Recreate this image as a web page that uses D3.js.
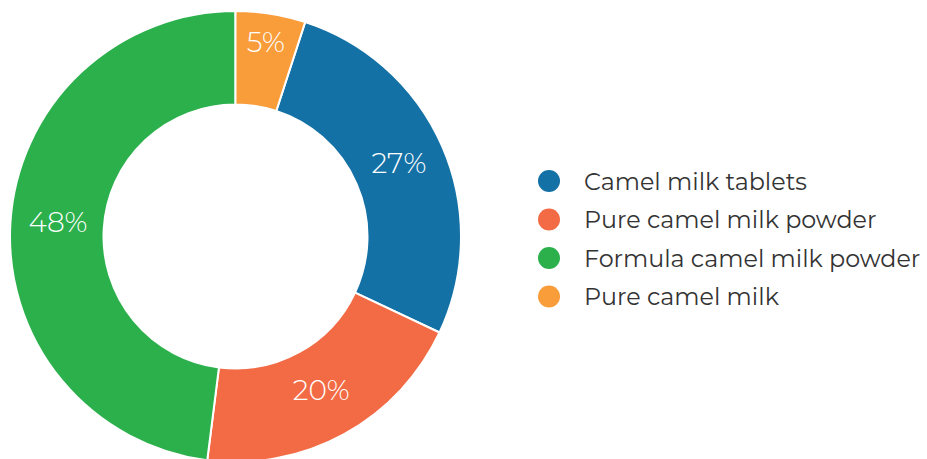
<!DOCTYPE html>
<meta charset="utf-8">
<script src="https://cdn.jsdelivr.net/npm/d3@7"></script>
<style>
body {margin: 0; background: #fff;}
.slice {stroke: #fff; stroke-width: 2px;}
.label-pct {
  text-anchor: middle;
  fill: #fff;
  font-family: Montserrat, "DejaVu Sans", sans-serif;
  font-weight: 300;
  font-size: 28px;
}
.legend-text {
  fill: #333;
  font-family: Montserrat, "DejaVu Sans", sans-serif;
  font-size: 23.8px;
}
</style>

<div id="vis"></div>

<script>

// Data
var categories = ["Camel milk tablets", "Pure camel milk powder", "Formula camel milk powder", "Pure camel milk"];
var values = [27, 20, 48, 5];
var colors = ["#1471a6", "#f26b44", "#2bb04c", "#f99d3b"];

var w = 927, h = 459;
var cx = 235.5, cy = 236.5;
var outerR = 225.5, innerR = 132;

var svg = d3.select("#vis")
            .append("svg")
            .attr("width", w)
            .attr("height", h);

var color = d3.scaleOrdinal().domain(categories).range(colors);

var data = categories.map(function(c, i) { return {name: c, value: values[i]}; });

// last slice ends at 12 o'clock
var total = d3.sum(values);
var offset = 2 * Math.PI * values[values.length - 1] / total;

var pie = d3.pie()
    .sort(null)
    .value(function(d) { return d.value; })
    .startAngle(offset)
    .endAngle(2 * Math.PI + offset);

var arc = d3.arc().innerRadius(innerR).outerRadius(outerR);

var g = svg.append("g")
    .attr("transform", "translate(" + cx + "," + cy + ")");

var arcs = pie(data);

g.selectAll(".slice")
  .data(arcs)
  .enter().append("path")
    .attr("class", "slice")
    .attr("fill", function(d) { return color(d.data.name); })
    .attr("d", arc);

// labels - small slices get pushed outward a bit
g.selectAll(".label-pct")
  .data(arcs)
  .enter().append("text")
    .attr("class", "label-pct")
    .attr("dy", "0.36em")
    .text(function(d) { return d.data.value + "%"; })
    .attr("transform", function(d) {
      var a = (d.startAngle + d.endAngle) / 2;
      var r = (d.endAngle - d.startAngle) < 0.5 ? 194 : 178;
      return "translate(" + (r * Math.sin(a)) + "," + (-r * Math.cos(a) - 3) + ")";
    });

// Legend
var legend = svg.append("g")
    .attr("transform", "translate(549,181)");

var item = legend.selectAll(".legend-item")
  .data(categories)
  .enter().append("g")
    .attr("class", "legend-item")
    .attr("transform", function(d, i) { return "translate(0," + (i * 38.5) + ")"; });

item.append("circle")
    .attr("r", 11)
    .attr("fill", function(d) { return color(d); });

item.append("text")
    .attr("class", "legend-text")
    .attr("x", 35)
    .attr("dy", "0.36em")
    .text(function(d) { return d; });

</script>
